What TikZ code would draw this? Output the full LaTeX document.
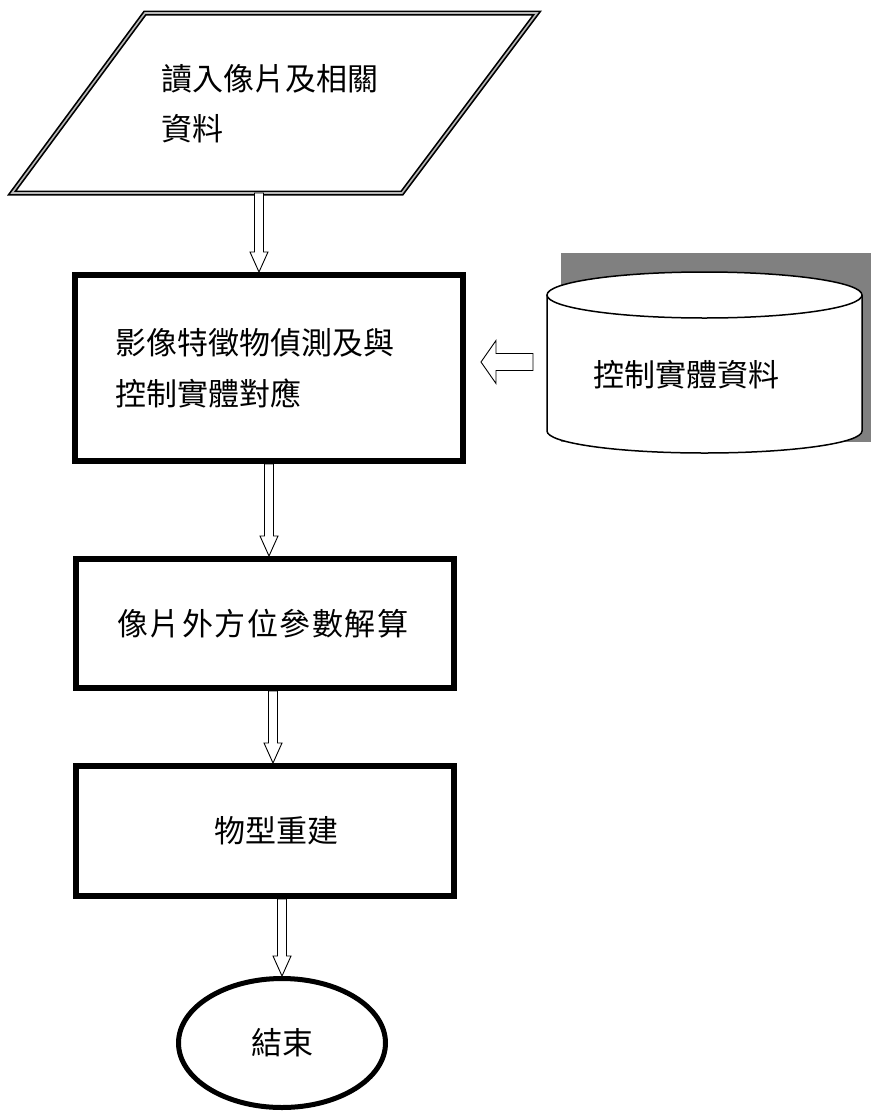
\documentclass[tikz,border=0pt]{standalone}
\usepackage{fontspec}
\setmainfont{Noto Sans CJK TC}
\newfontfamily\widecjk[LetterSpace=5]{Noto Sans CJK TC}
\usetikzlibrary{calc,shapes.geometric,positioning}

\tikzset{
	stepbox/.style={draw,line width=6pt,fill=white,align=left,font=\fontsize{31}{51}\selectfont},
	hollow/.style={draw,line width=0.9pt,fill=white},
}
% hollow block arrows, from #1 to #2
\newcommand{\hollowdown}[2]{%
	\draw[hollow] let \p1=(#1), \p2=(#2) in
		(\x1-4.5pt,\y1) -- (\x1-4.5pt,\y2+20pt) -- (\x1-9pt,\y2+20pt) -- (\x1,\y2)
		-- (\x1+9pt,\y2+20pt) -- (\x1+4.5pt,\y2+20pt) -- (\x1+4.5pt,\y1) -- cycle;}
\newcommand{\hollowleft}[2]{%
	\draw[hollow] let \p1=(#1), \p2=(#2) in
		(\x1,\y1+8.5pt) -- (\x2+15pt,\y1+8.5pt) -- (\x2+15pt,\y1+21.5pt) -- (\x2,\y1)
		-- (\x2+15pt,\y1-21.5pt) -- (\x2+15pt,\y1-8.5pt) -- (\x1,\y1-8.5pt) -- cycle;}

\begin{document}
\begin{tikzpicture}[x=1pt,y=-1pt]
	\useasboundingbox (0,0) rectangle (871,1111);

	% input
	\draw[line width=1.7pt,double=gray!55,double distance=1.6pt]
		(12,193) -- (145,13) -- (537,13) -- (402,193) -- cycle;
	\node[anchor=west,align=left,font=\fontsize{31}{50}\selectfont] (input) at (158,104) {讀入像片及相關\\資料};
	\coordinate (inbot) at (259,193);

	% steps
	\node[stepbox,minimum width=388pt,minimum height=186pt,text width=308pt,inner xsep=40pt] (detect) at (269,368)
		{影像特徵物偵測及與\\控制實體對應};
	\node[stepbox,minimum width=378pt,minimum height=129pt,text width=296pt,inner xsep=41pt] (orient) at (265,623.5)
		{\widecjk 像片外方位參數解算};
	\node[stepbox,minimum width=378pt,minimum height=130pt,align=center] (model) at (265,831)
		{\hspace*{22pt}物型重建};
	\node[ellipse,draw,line width=5pt,minimum width=207pt,minimum height=129pt,font=\fontsize{31}{40}\selectfont] (end) at (282,1043)
		{結束};

	% database
	\fill[black!50] (561,253) rectangle (871,442);
	\draw[line width=1.5pt,fill=white] (547,295) -- (547,431)
		arc[start angle=180,end angle=360,x radius=157.5pt,y radius=22pt] -- (862,295);
	\draw[line width=1.5pt,fill=white] (704.5,295) ellipse[x radius=157.5pt,y radius=23pt];
	\coordinate (dbwest) at (547,362);
	\node[font=\fontsize{31}{40}\selectfont] (db) at (686,375) {控制實體資料};

	% arrows
	\hollowdown{inbot}{inbot |- detect.north}
	\hollowdown{detect.south}{detect.south |- orient.north}
	\hollowdown{[xshift=8pt]orient.south}{[xshift=8pt]orient.south |- model.north}
	\hollowdown{model.south -| end.north}{end.north}
	\hollowleft{[xshift=-14pt]dbwest}{[xshift=15pt]detect.east |- dbwest}
\end{tikzpicture}
\end{document}
